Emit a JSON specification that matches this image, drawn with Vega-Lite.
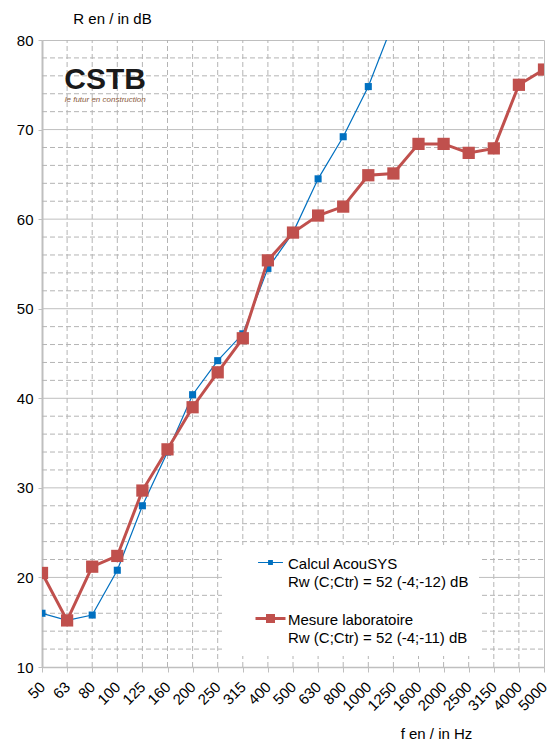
{
  "$schema": "https://vega.github.io/schema/vega-lite/v6.json",
  "autosize": "none",
  "width": 502,
  "height": 627,
  "padding": {"left": 42, "top": 40, "right": 4, "bottom": 73},
  "background": "white",
  "config": {
    "font": "Liberation Sans",
    "view": {"stroke": "#bfbfbf", "strokeWidth": 1},
    "axis": {
      "grid": false,
      "domainColor": "#bfbfbf",
      "tickColor": "#bfbfbf",
      "labelColor": "#000000",
      "labelFont": "Liberation Sans",
      "titleFont": "Liberation Sans",
      "titleFontWeight": "normal",
      "titleColor": "#000000",
      "titleFontSize": 15
    },
    "axisX": {"domainWidth": 1.5, "tickSize": 5},
    "axisY": {"domainWidth": 2, "tickSize": 4},
    "legend": {
      "orient": "none",
      "legendX": 180,
      "legendY": 505,
      "fillColor": "white",
      "padding": 10,
      "symbolOffset": 31,
      "symbolSize": 900,
      "labelFont": "Liberation Sans",
      "labelFontSize": 15,
      "labelColor": "#000000",
      "labelLimit": 400,
      "labelOffset": 10,
      "rowPadding": 19,
      "title": null
    }
  },
  "datasets": {
    "rows": [
      {"f": "50", "series": "Calcul AcouSYS", "R": 16.0},
      {"f": "63", "series": "Calcul AcouSYS", "R": 15.2},
      {"f": "80", "series": "Calcul AcouSYS", "R": 15.8},
      {"f": "100", "series": "Calcul AcouSYS", "R": 20.8},
      {"f": "125", "series": "Calcul AcouSYS", "R": 28.0},
      {"f": "160", "series": "Calcul AcouSYS", "R": 34.0},
      {"f": "200", "series": "Calcul AcouSYS", "R": 40.4},
      {"f": "250", "series": "Calcul AcouSYS", "R": 44.2},
      {"f": "315", "series": "Calcul AcouSYS", "R": 47.2},
      {"f": "400", "series": "Calcul AcouSYS", "R": 54.5},
      {"f": "500", "series": "Calcul AcouSYS", "R": 58.5},
      {"f": "630", "series": "Calcul AcouSYS", "R": 64.5},
      {"f": "800", "series": "Calcul AcouSYS", "R": 69.2},
      {"f": "1000", "series": "Calcul AcouSYS", "R": 74.8},
      {"f": "1250", "series": "Calcul AcouSYS", "R": 82.0},
      {"f": "50", "series": "Mesure laboratoire", "R": 20.5},
      {"f": "63", "series": "Mesure laboratoire", "R": 15.2},
      {"f": "80", "series": "Mesure laboratoire", "R": 21.2},
      {"f": "100", "series": "Mesure laboratoire", "R": 22.4},
      {"f": "125", "series": "Mesure laboratoire", "R": 29.7},
      {"f": "160", "series": "Mesure laboratoire", "R": 34.3},
      {"f": "200", "series": "Mesure laboratoire", "R": 39.0},
      {"f": "250", "series": "Mesure laboratoire", "R": 42.9},
      {"f": "315", "series": "Mesure laboratoire", "R": 46.7},
      {"f": "400", "series": "Mesure laboratoire", "R": 55.4},
      {"f": "500", "series": "Mesure laboratoire", "R": 58.5},
      {"f": "630", "series": "Mesure laboratoire", "R": 60.4},
      {"f": "800", "series": "Mesure laboratoire", "R": 61.4},
      {"f": "1000", "series": "Mesure laboratoire", "R": 64.9},
      {"f": "1250", "series": "Mesure laboratoire", "R": 65.1},
      {"f": "1600", "series": "Mesure laboratoire", "R": 68.4},
      {"f": "2000", "series": "Mesure laboratoire", "R": 68.4},
      {"f": "2500", "series": "Mesure laboratoire", "R": 67.4},
      {"f": "3150", "series": "Mesure laboratoire", "R": 67.9},
      {"f": "4000", "series": "Mesure laboratoire", "R": 75.0},
      {"f": "5000", "series": "Mesure laboratoire", "R": 76.7}
    ],
    "gridx": [
      {"f": "63", "R": 10, "R2": 80}, {"f": "80", "R": 10, "R2": 80}, {"f": "100", "R": 10, "R2": 80},
      {"f": "125", "R": 10, "R2": 80}, {"f": "160", "R": 10, "R2": 80}, {"f": "200", "R": 10, "R2": 80},
      {"f": "250", "R": 10, "R2": 80}, {"f": "315", "R": 10, "R2": 80}, {"f": "400", "R": 10, "R2": 80},
      {"f": "500", "R": 10, "R2": 80}, {"f": "630", "R": 10, "R2": 80}, {"f": "800", "R": 10, "R2": 80},
      {"f": "1000", "R": 10, "R2": 80}, {"f": "1250", "R": 10, "R2": 80}, {"f": "1600", "R": 10, "R2": 80},
      {"f": "2000", "R": 10, "R2": 80}, {"f": "2500", "R": 10, "R2": 80}, {"f": "3150", "R": 10, "R2": 80},
      {"f": "4000", "R": 10, "R2": 80}
    ],
    "gridy": [
      {"f": "50", "f2": "5000", "R": 12, "kind": "minor"}, {"f": "50", "f2": "5000", "R": 14, "kind": "minor"},
      {"f": "50", "f2": "5000", "R": 16, "kind": "minor"}, {"f": "50", "f2": "5000", "R": 18, "kind": "minor"},
      {"f": "50", "f2": "5000", "R": 20, "kind": "major"},
      {"f": "50", "f2": "5000", "R": 22, "kind": "minor"}, {"f": "50", "f2": "5000", "R": 24, "kind": "minor"},
      {"f": "50", "f2": "5000", "R": 26, "kind": "minor"}, {"f": "50", "f2": "5000", "R": 28, "kind": "minor"},
      {"f": "50", "f2": "5000", "R": 30, "kind": "major"},
      {"f": "50", "f2": "5000", "R": 32, "kind": "minor"}, {"f": "50", "f2": "5000", "R": 34, "kind": "minor"},
      {"f": "50", "f2": "5000", "R": 36, "kind": "minor"}, {"f": "50", "f2": "5000", "R": 38, "kind": "minor"},
      {"f": "50", "f2": "5000", "R": 40, "kind": "major"},
      {"f": "50", "f2": "5000", "R": 42, "kind": "minor"}, {"f": "50", "f2": "5000", "R": 44, "kind": "minor"},
      {"f": "50", "f2": "5000", "R": 46, "kind": "minor"}, {"f": "50", "f2": "5000", "R": 48, "kind": "minor"},
      {"f": "50", "f2": "5000", "R": 50, "kind": "major"},
      {"f": "50", "f2": "5000", "R": 52, "kind": "minor"}, {"f": "50", "f2": "5000", "R": 54, "kind": "minor"},
      {"f": "50", "f2": "5000", "R": 56, "kind": "minor"}, {"f": "50", "f2": "5000", "R": 58, "kind": "minor"},
      {"f": "50", "f2": "5000", "R": 60, "kind": "major"},
      {"f": "50", "f2": "5000", "R": 62, "kind": "minor"}, {"f": "50", "f2": "5000", "R": 64, "kind": "minor"},
      {"f": "50", "f2": "5000", "R": 66, "kind": "minor"}, {"f": "50", "f2": "5000", "R": 68, "kind": "minor"},
      {"f": "50", "f2": "5000", "R": 70, "kind": "major"},
      {"f": "50", "f2": "5000", "R": 72, "kind": "minor"}, {"f": "50", "f2": "5000", "R": 74, "kind": "minor"},
      {"f": "50", "f2": "5000", "R": 76, "kind": "minor"}, {"f": "50", "f2": "5000", "R": 78, "kind": "minor"}
    ],
    "logo": [
      {"f": "80", "R": 74.5, "t": "CSTB", "kind": "big"},
      {"f": "80", "R": 73.6, "t": "le futur en construction", "kind": "small"}
    ]
  },
  "data": {"name": "rows"},
  "encoding": {
    "x": {
      "field": "f",
      "type": "ordinal",
      "scale": {"type": "point", "padding": 0, "domain": ["50","63","80","100","125","160","200","250","315","400","500","630","800","1000","1250","1600","2000","2500","3150","4000","5000"]},
      "axis": {
        "title": "f en / in Hz",
        "titleX": 394,
        "titleY": 66,
        "titleAlign": "center",
        "titleBaseline": "middle",
        "labelAngle": -45,
        "labelAlign": "right",
        "labelBaseline": "middle",
        "labelFontSize": 15,
        "labelPadding": 12,
        "labelOverlap": false,
        "grid": false
      }
    },
    "y": {
      "field": "R",
      "type": "quantitative",
      "scale": {"domain": [10, 80], "nice": false, "zero": false},
      "axis": {
        "title": "R en / in dB",
        "titleAngle": 0,
        "titleX": 70,
        "titleY": -22,
        "titleAlign": "center",
        "titleBaseline": "middle",
        "values": [10, 20, 30, 40, 50, 60, 70, 80],
        "labelFontSize": 15,
        "labelPadding": 5,
        "grid": false
      }
    }
  },
  "layer": [
    {
      "data": {"name": "gridx"},
      "mark": {"type": "rule", "color": "#b4b4b4", "strokeWidth": 1, "strokeDash": [5, 3], "opacity": 1},
      "encoding": {"y2": {"field": "R2"}}
    },
    {
      "data": {"name": "gridy"},
      "transform": [{"filter": "datum.kind === 'minor'"}],
      "mark": {"type": "rule", "color": "#b4b4b4", "strokeWidth": 1, "strokeDash": [5, 3], "opacity": 1},
      "encoding": {"x2": {"field": "f2"}}
    },
    {
      "data": {"name": "gridy"},
      "transform": [{"filter": "datum.kind === 'major'"}],
      "mark": {"type": "rule", "color": "#bfbfbf", "strokeWidth": 1},
      "encoding": {"x2": {"field": "f2"}}
    },
    {
      "transform": [{"filter": "datum.series === 'Calcul AcouSYS'"}],
      "mark": {"type": "line", "strokeWidth": 1.2, "clip": true, "point": {"shape": "square", "size": 50, "filled": true, "opacity": 1}},
      "encoding": {
        "color": {
          "field": "series",
          "type": "nominal",
          "scale": {"domain": ["Calcul AcouSYS", "Mesure laboratoire"], "range": ["#0070C0", "#C0504D"]},
          "legend": {
            "labelExpr": "datum.label == 'Calcul AcouSYS' ? ['Calcul AcouSYS', 'Rw (C;Ctr) = 52 (-4;-12) dB'] : ['Mesure laboratoire', 'Rw (C;Ctr) = 52 (-4;-11) dB']",
            "symbolType": "M-1,0H1M-0.2,-0.2H0.2V0.2H-0.2Z",
            "encode": {
              "symbols": {
                "update": {
                  "shape": {"signal": "datum.value == 'Calcul AcouSYS' ? 'M-0.83,0H0.83M-0.12,-0.12H0.12V0.12H-0.12Z' : 'M-1,0H1M-0.2,-0.2H0.2V0.2H-0.2Z'"},
                  "strokeWidth": {"signal": "datum.value == 'Calcul AcouSYS' ? 1.2 : 3"},
                  "fill": {"signal": "datum.value == 'Calcul AcouSYS' ? '#0070C0' : '#C0504D'"},
                  "stroke": {"signal": "datum.value == 'Calcul AcouSYS' ? '#0070C0' : '#C0504D'"},
                  "opacity": {"value": 1},
                  "fillOpacity": {"value": 1},
                  "strokeOpacity": {"value": 1}
                }
              },
              "labels": {
                "update": {
                  "lineHeight": {"value": 18},
                  "baseline": {"value": "top"},
                  "dy": {"value": -6}
                }
              }
            }
          }
        }
      }
    },
    {
      "transform": [{"filter": "datum.series === 'Mesure laboratoire'"}],
      "mark": {"type": "line", "strokeWidth": 3, "clip": true, "point": {"shape": "square", "size": 150, "filled": true, "opacity": 1}},
      "encoding": {
        "color": {"field": "series", "type": "nominal"}
      }
    },
    {
      "data": {"name": "logo"},
      "transform": [{"filter": "datum.kind === 'big'"}],
      "mark": {"type": "text", "font": "Liberation Sans", "fontSize": 30, "fontWeight": "bold", "color": "#1a1a1a", "align": "center", "baseline": "alphabetic", "dx": 13},
      "encoding": {"text": {"field": "t"}}
    },
    {
      "data": {"name": "logo"},
      "transform": [{"filter": "datum.kind === 'small'"}],
      "mark": {"type": "text", "font": "Liberation Sans", "fontSize": 8, "fontStyle": "italic", "color": "#8a5a3c", "align": "center", "baseline": "middle", "dy": 3, "dx": 13},
      "encoding": {"text": {"field": "t"}}
    }
  ]
}
